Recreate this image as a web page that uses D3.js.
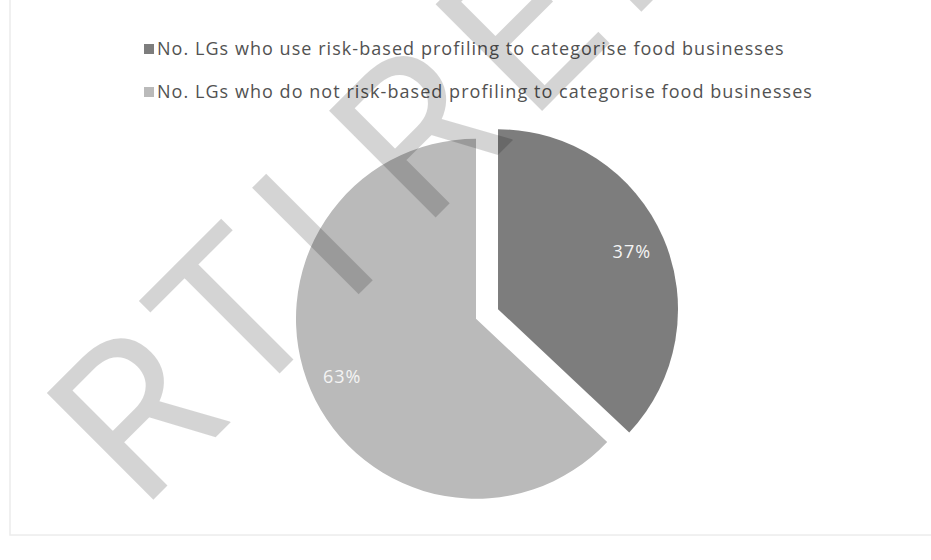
<!DOCTYPE html>
<html>
<head>
<meta charset="utf-8">
<script src="https://cdn.jsdelivr.net/npm/d3@7"></script>
<style>
  html, body { margin: 0; padding: 0; background: #ffffff; }
  svg { display: block; }
</style>
</head>
<body>
<svg id="chart" width="931" height="560"></svg>
<script>
// Series: local governments by use of risk-based profiling
const categories = [
  "No. LGs who use risk-based profiling to categorise food businesses",
  "No. LGs who do not risk-based profiling to categorise food businesses"
];
const shares = [37, 63];
const shareLabels = ["37%", "63%"];
const sliceColors = ["#7d7d7d", "#bababa"];
const stampText = "RTI RELEASE";

const W = 931, H = 560;
const svg = d3.select("#chart");

// faint chart-area frame
svg.append("rect")
  .attr("x", 10).attr("y", -5)
  .attr("width", W + 10).attr("height", 540)
  .attr("fill", "none")
  .attr("stroke", "#ececec")
  .attr("stroke-width", 1.5);

// legend
const legend = svg.append("g").attr("transform", "translate(144,0)");
const rowY = d3.scalePoint().domain(d3.range(categories.length)).range([49, 92]);
const rows = legend.selectAll("g.row")
  .data(categories)
  .join("g")
  .attr("class", "row")
  .attr("transform", (d, i) => `translate(0,${rowY(i)})`);
rows.append("rect")
  .attr("x", 0).attr("y", -5)
  .attr("width", 10).attr("height", 10)
  .attr("fill", (d, i) => sliceColors[i]);
rows.append("text")
  .attr("x", 13).attr("y", 5.5)
  .attr("font-family", "'Open Sans', sans-serif")
  .attr("font-size", 18)
  .attr("letter-spacing", 1.05)
  .attr("fill", "#525252")
  .text(d => d);

// pie
const cx = 487, cy = 314, R = 180, explode = 12;
const pie = d3.pie().sort(null).value(d => d);
const arcs = pie(shares);
const arc = d3.arc().innerRadius(0).outerRadius(R);
const labelArc = d3.arc().innerRadius(R * 0.81).outerRadius(R * 0.81);

const pieG = svg.append("g").attr("transform", `translate(${cx},${cy})`);
const slices = pieG.selectAll("g.slice")
  .data(arcs)
  .join("g")
  .attr("class", "slice")
  .attr("transform", d => {
    const mid = (d.startAngle + d.endAngle) / 2;
    return `translate(${Math.sin(mid) * explode},${-Math.cos(mid) * explode})`;
  });
slices.append("path")
  .attr("d", arc)
  .attr("fill", (d, i) => sliceColors[i]);
slices.append("text")
  .attr("transform", d => `translate(${labelArc.centroid(d)})`)
  .attr("text-anchor", "middle")
  .attr("dy", "0.35em")
  .attr("font-family", "'Open Sans', sans-serif")
  .attr("font-size", 18)
  .attr("letter-spacing", 1)
  .attr("fill", "#f4f4f4")
  .text((d, i) => shareLabels[i]);

// diagonal release stamp laid over everything
svg.append("text")
  .attr("transform", "translate(141,512) rotate(-45)")
  .attr("font-family", "Roboto, sans-serif")
  .attr("font-weight", 400)
  .attr("font-size", 212)
  .attr("letter-spacing", 20)
  .attr("word-spacing", -40)
  .attr("fill", "#000")
  .attr("fill-opacity", 0.17)
  .text(stampText);
</script>
</body>
</html>
